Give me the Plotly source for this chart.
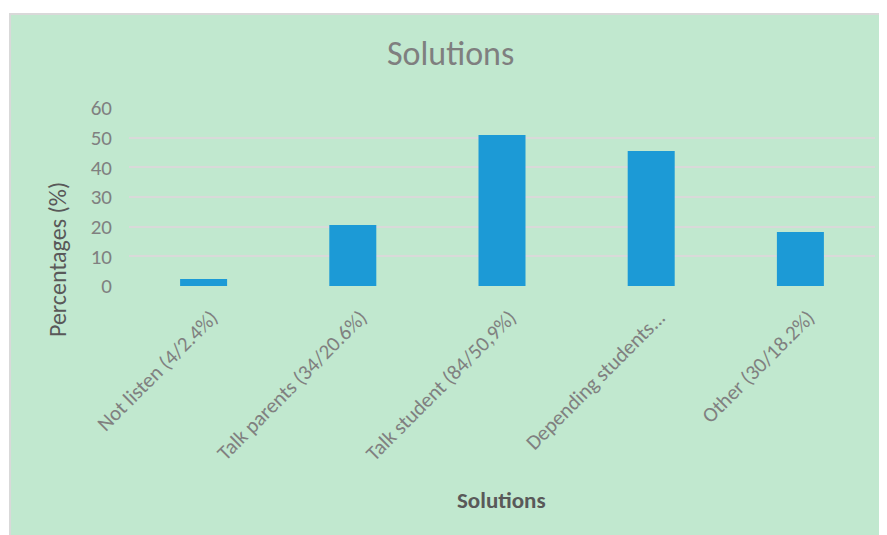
import plotly.graph_objects as go

categories = ["Not listen (4/2.4%)", "Talk parents (34/20.6%)", "Talk student (84/50,9%)",
              "Depending students...", "Other (30/18.2%)"]
values = [2.4, 20.6, 50.9, 45.5, 18.2]
y_ticks = [0, 10, 20, 30, 40, 50, 60]

W, H = 887, 535
OFF = 8  # page body margin compensation
L, R, T, B = 129 - OFF, 875 - OFF, 108 - OFF, 286 - OFF  # plot area pixels

def px_x(px):
    return (px - OFF - L) / (R - L)

def px_y(py):
    return (B - (py - OFF)) / (B - T)

FONT = "Carlito, Calibri, Lato, sans-serif"

fig = go.Figure(go.Bar(x=categories, y=values, marker=dict(color="#1C9AD6", line=dict(width=0)),
                       width=0.315))

fig.update_layout(
    width=W, height=H,
    margin=dict(l=L, r=W - R, t=T, b=H - B, pad=0),
    paper_bgcolor="white",
    plot_bgcolor="rgba(0,0,0,0)",
    showlegend=False,
    font=dict(family=FONT, color="#808080"),
    shapes=[dict(type="rect", xref="paper", yref="paper", layer="below",
                 x0=px_x(10), x1=px_x(910), y0=px_y(14), y1=px_y(570),
                 fillcolor="#C1E8CF", line=dict(color="#D9D9D9", width=2))],
    annotations=[
        dict(text="Solutions", xref="paper", yref="paper", x=px_x(450), y=px_y(53),
             xanchor="center", yanchor="middle", showarrow=False,
             font=dict(family=FONT, size=34, color="#7F7F7F")),
        dict(text="Percentages (%)", xref="paper", yref="paper", x=px_x(57), y=px_y(260),
             xanchor="center", yanchor="middle", showarrow=False, textangle=-90,
             font=dict(family=FONT, size=24, color="#595959")),
        dict(text="<b>Solutions</b>", xref="paper", yref="paper", x=px_x(501), y=px_y(500),
             xanchor="center", yanchor="middle", showarrow=False,
             font=dict(family=FONT, size=23, color="#595959")),
    ],
)

fig.update_xaxes(tickangle=-45, showgrid=False, showline=False, ticks="",
                 ticklabelstandoff=14, ticklabelshift=8,
                 tickfont=dict(family=FONT, size=21, color="#808080"))
fig.update_yaxes(range=[0, 60], tickvals=y_ticks, showgrid=True, gridcolor="#D9D9D9", gridwidth=1.5,
                 zeroline=False, showline=False, ticks="", ticklabelstandoff=16,
                 tickfont=dict(family=FONT, size=21, color="#808080"))

fig.write_html("out.html")
